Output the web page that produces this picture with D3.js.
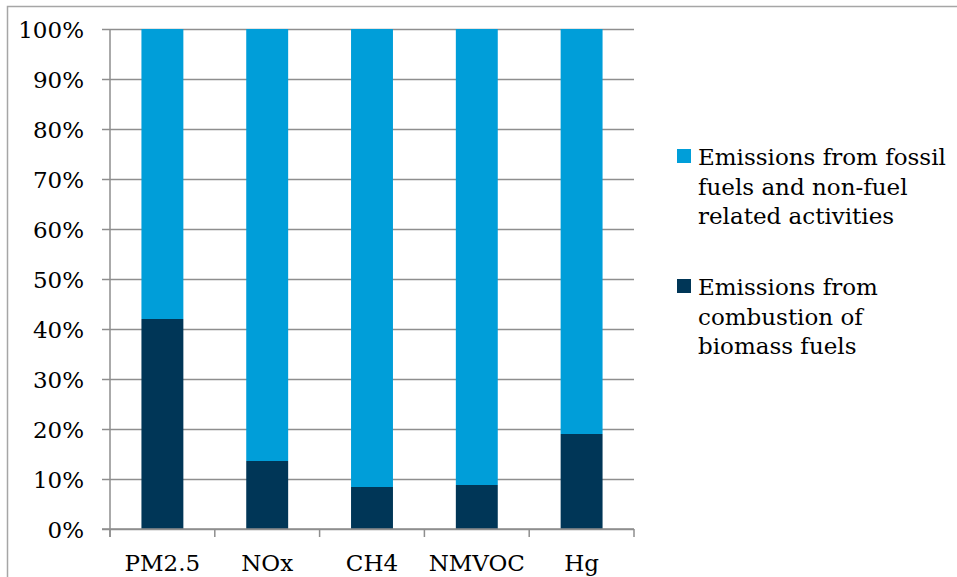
<!DOCTYPE html>
<html>
<head>
<meta charset="utf-8">
<script src="https://cdn.jsdelivr.net/npm/d3@7"></script>
<style>
  html, body { margin: 0; padding: 0; background: #fff; }
  svg { display: block; }
  text { font-family: Georgia, "DejaVu Serif", serif; fill: #000; }
</style>
</head>
<body>
<svg id="chart" width="957" height="577"></svg>
<script>
// Share of emissions by source, percent
const categories = ["PM2.5", "NOx", "CH4", "NMVOC", "Hg"];
const biomass = [42, 13.6, 8.4, 8.8, 19];
const fossil = biomass.map(v => 100 - v);
const yTicks = [0, 10, 20, 30, 40, 50, 60, 70, 80, 90, 100];
const seriesNames = [
  ["Emissions from fossil", "fuels and non-fuel", "related activities"],
  ["Emissions from", "combustion of", "biomass fuels"]
];
const colors = { fossil: "#009ed9", biomass: "#003657" };

const svg = d3.select("#chart");
const W = 957, H = 577;
const FS = 23;

// outer frame
svg.append("rect")
  .attr("x", 7.5).attr("y", 6.5)
  .attr("width", W + 10).attr("height", H + 10)
  .attr("fill", "none").attr("stroke", "#a6a6a6").attr("stroke-width", 1.5);

const plot = { left: 110, right: 634, top: 29, bottom: 529 };

const x = d3.scaleBand().domain(categories)
  .range([plot.left, plot.right]).paddingInner(0.6).paddingOuter(0.3);
const y = d3.scaleLinear().domain([0, 100]).range([plot.bottom, plot.top]);

// horizontal gridlines with left tick stubs
const yAxis = d3.axisLeft(y).tickValues(yTicks)
  .tickSize(-(plot.right - plot.left)).tickPadding(18)
  .tickFormat(d => d + "%");
const gy = svg.append("g").attr("transform", `translate(${plot.left},0)`).call(yAxis);
gy.select(".domain").remove();
gy.selectAll(".tick line").attr("stroke", "#8e8e8e").attr("stroke-width", 1.5)
  .attr("x1", -8);
gy.selectAll(".tick text").attr("font-size", FS).attr("x", -26).attr("dy", "0.36em")
  .attr("fill", "#000")
  .style("font-family", 'Georgia, "DejaVu Serif", serif');

// stacked bars
const stack = categories.map((c, i) => ({ c, biomass: biomass[i], fossil: fossil[i] }));
const g = svg.append("g");
g.selectAll("rect.fossil").data(stack).join("rect")
  .attr("class", "fossil")
  .attr("x", d => x(d.c)).attr("width", x.bandwidth())
  .attr("y", d => y(d.biomass + d.fossil))
  .attr("height", d => y(d.biomass) - y(d.biomass + d.fossil))
  .attr("fill", colors.fossil);
g.selectAll("rect.biomass").data(stack).join("rect")
  .attr("class", "biomass")
  .attr("x", d => x(d.c)).attr("width", x.bandwidth())
  .attr("y", d => y(d.biomass))
  .attr("height", d => y(0) - y(d.biomass))
  .attr("fill", colors.biomass);

// y axis line
svg.append("line")
  .attr("x1", plot.left).attr("x2", plot.left)
  .attr("y1", plot.top).attr("y2", plot.bottom + 8)
  .attr("stroke", "#8e8e8e").attr("stroke-width", 1.5);

// x axis with boundary ticks between categories
const boundaries = d3.range(categories.length + 1).map(i => plot.left + i * (plot.right - plot.left) / categories.length);
svg.append("line")
  .attr("x1", plot.left - 8).attr("x2", plot.right)
  .attr("y1", plot.bottom).attr("y2", plot.bottom)
  .attr("stroke", "#8e8e8e").attr("stroke-width", 1.5);
svg.selectAll("line.xt").data(boundaries).join("line")
  .attr("class", "xt")
  .attr("x1", d => d).attr("x2", d => d)
  .attr("y1", plot.bottom).attr("y2", plot.bottom + 8)
  .attr("stroke", "#8e8e8e").attr("stroke-width", 1.5);
svg.selectAll("text.xl").data(categories).join("text")
  .attr("class", "xl")
  .attr("x", d => x(d) + x.bandwidth() / 2).attr("y", 571)
  .attr("text-anchor", "middle").attr("font-size", FS)
  .text(d => d);

// legend
const legend = svg.append("g");
const entries = [
  { color: colors.fossil, lines: seriesNames[0], top: 149 },
  { color: colors.biomass, lines: seriesNames[1], top: 279 }
];
entries.forEach(e => {
  legend.append("rect").attr("x", 677).attr("y", e.top)
    .attr("width", 14).attr("height", 14).attr("fill", e.color);
  e.lines.forEach((t, i) => {
    legend.append("text").attr("x", 698).attr("y", e.top + 16 + i * 29.5)
      .attr("font-size", FS).text(t);
  });
});
</script>
</body>
</html>
